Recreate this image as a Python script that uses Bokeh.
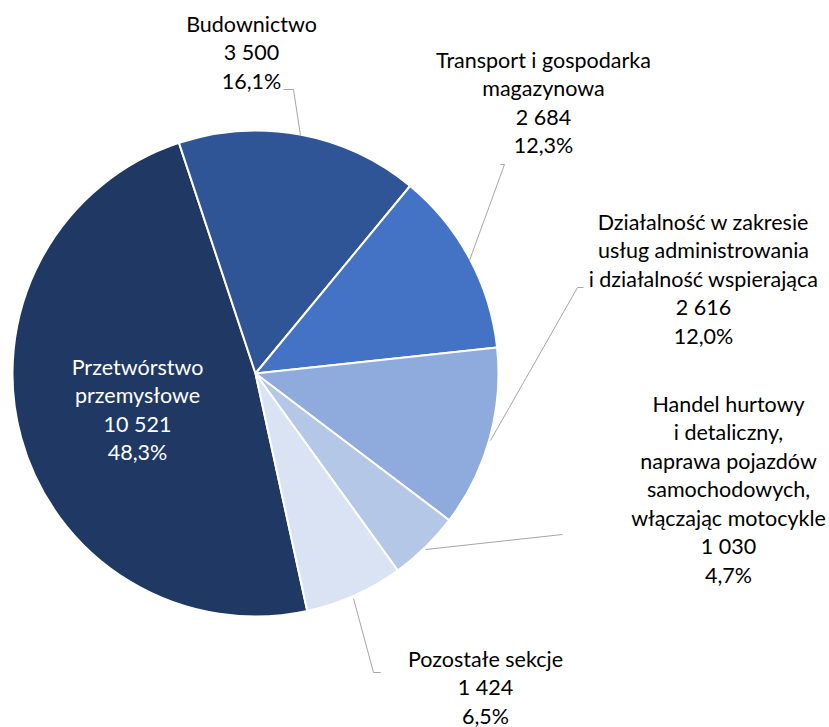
import math
from bokeh.plotting import figure
from bokeh.models import Range1d, ColumnDataSource
from bokeh.core.properties import value
from bokeh.embed import file_html
from bokeh.resources import INLINE

# ---- data ----
categories = [
    "Przetwórstwo przemysłowe",
    "Budownictwo",
    "Transport i gospodarka magazynowa",
    "Działalność w zakresie usług administrowania i działalność wspierająca",
    "Handel hurtowy i detaliczny, naprawa pojazdów samochodowych, włączając motocykle",
    "Pozostałe sekcje",
]
label_lines = [
    ["Przetwórstwo", "przemysłowe"],
    ["Budownictwo"],
    ["Transport i gospodarka", "magazynowa"],
    ["Działalność w zakresie", "usług administrowania", "i działalność wspierająca"],
    ["Handel hurtowy", "i detaliczny,", "naprawa pojazdów", "samochodowych,", "włączając motocykle"],
    ["Pozostałe sekcje"],
]
values = [10521, 3500, 2684, 2616, 1030, 1424]
colors = ["#203864", "#2F5597", "#4472C4", "#8FAADC", "#B4C7E7", "#DAE3F3"]
text_colors = ["#FFFFFF", "#000000", "#000000", "#000000", "#000000", "#000000"]

# ---- layout (image pixel coordinates) ----
W, H = 829, 727
def Y(iy):
    return H - iy

CX, CY, R = 255, 373, 243
START_DEG = 167.7  # clockwise from top, start of first slice
LINE_STEP = 28.5
TEXT_DY = -9
FONT = "Lato"
FONT_SIZE = "21.5px"

label_anchor = [(137, 375), (251, 32), (543, 68), (703, 230), (728, 412), (485, 667)]
leaders = [
    None,
    [(283, 89), (293, 89), (300, 135)],
    [(500, 164), (504, 164), (469, 260)],
    [(583, 287), (577, 287), (490, 440)],
    [(562, 534), (425, 549)],
    [(353, 598), (373, 672), (380, 672)],
]

p = figure(width=W, height=H,
           x_range=Range1d(0, W), y_range=Range1d(0, H),
           output_backend="svg", toolbar_location=None, min_border=0)
p.axis.visible = False
p.grid.visible = False
p.outline_line_color = None
p.background_fill_color = "white"
p.border_fill_color = "white"

total = sum(values)
starts, ends = [], []
acc = START_DEG
for v in values:
    a0 = acc
    a1 = acc + v / total * 360.0
    starts.append(math.radians(90 - a0))
    ends.append(math.radians(90 - a1))
    acc = a1

src = ColumnDataSource(dict(x=[CX] * len(values), y=[Y(CY)] * len(values),
                            start=starts, end=ends, color=colors))
p.wedge(x="x", y="y", radius=R, start_angle="start", end_angle="end",
        direction="clock", fill_color="color", line_color="white", line_width=2,
        source=src)

# leader lines
for pts in leaders:
    if pts is None:
        continue
    p.line([q[0] for q in pts], [Y(q[1]) for q in pts], line_color="#A6A6A6", line_width=1)

# labels
tx, ty, tt, tc = [], [], [], []
for i, v in enumerate(values):
    lines = list(label_lines[i])
    lines.append(f"{v:,}".replace(",", " "))
    lines.append(f"{v / total * 100:.1f}".replace(".", ",") + "%")
    ax, ay = label_anchor[i]
    for k, s in enumerate(lines):
        tx.append(ax)
        ty.append(Y(ay + k * LINE_STEP + TEXT_DY))
        tt.append(s)
        tc.append(text_colors[i])

tsrc = ColumnDataSource(dict(x=tx, y=ty, text=tt, color=tc))
p.text(x="x", y="y", text="text", text_color="color", source=tsrc,
       text_font=value(FONT), text_font_size=FONT_SIZE,
       text_align="center", text_baseline="alphabetic")

open("out.html", "w").write(file_html(p, INLINE))
